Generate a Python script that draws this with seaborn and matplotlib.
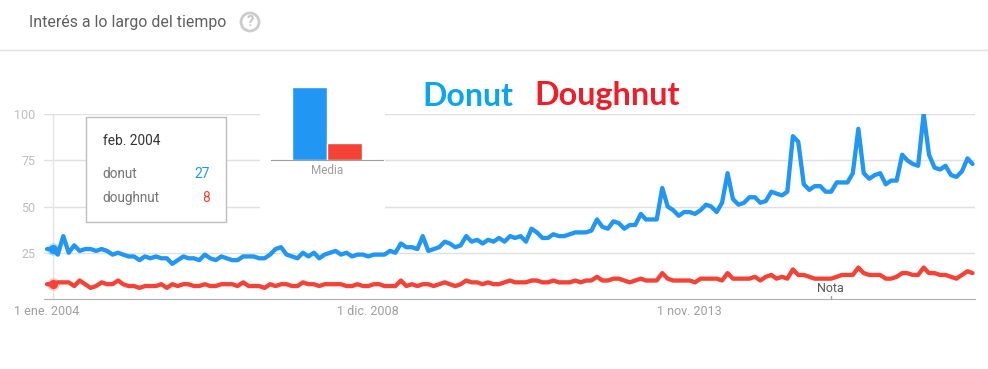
import matplotlib
matplotlib.use("Agg")
import matplotlib.pyplot as plt
from matplotlib.patches import Circle, Rectangle
import pandas as pd
import seaborn as sns

START_MONTH = "2004-01-01"

donut = [
    27, 27, 24, 34, 25, 29, 26, 27, 27, 26, 27, 26, 24, 25, 24, 23, 23, 21, 23, 22,
    23, 22, 22, 19, 21, 23, 22, 22, 21, 24, 22, 21, 23, 22, 21, 21, 23, 23, 23, 22,
    22, 24, 27, 28, 24, 23, 22, 25, 23, 25, 22, 24, 25, 26, 24, 25, 23, 24, 24, 23,
    24, 24, 24, 26, 25, 30, 28, 28, 27, 34, 26, 27, 28, 31, 30, 28, 29, 34, 31, 32,
    30, 32, 31, 33, 31, 34, 33, 34, 31, 38, 36, 33, 33, 35, 34, 34, 35, 36, 36, 36,
    37, 43, 39, 38, 42, 41, 38, 40, 40, 46, 43, 43, 43, 60, 50, 48, 45, 47, 47, 46,
    48, 51, 50, 47, 52, 68, 54, 51, 52, 55, 55, 52, 53, 58, 57, 56, 58, 88, 85, 62,
    59, 61, 61, 58, 58, 63, 63, 63, 68, 92, 68, 65, 67, 68, 62, 64, 64, 78, 75, 73,
    72, 100, 78, 71, 70, 72, 67, 66, 69, 76, 73,
]
doughnut = [
    8, 8, 9, 9, 9, 7, 10, 8, 6, 7, 9, 8, 8, 10, 8, 7, 7, 6, 7, 7,
    7, 8, 6, 8, 7, 8, 8, 7, 7, 8, 7, 7, 8, 8, 8, 7, 9, 7, 7, 7,
    6, 8, 7, 8, 8, 7, 7, 9, 8, 8, 7, 8, 8, 8, 8, 7, 7, 8, 7, 7,
    8, 8, 7, 7, 7, 10, 7, 8, 7, 8, 8, 7, 8, 9, 8, 7, 8, 10, 9, 9,
    8, 9, 8, 8, 9, 10, 9, 9, 9, 10, 10, 9, 9, 10, 9, 9, 9, 10, 9, 10,
    10, 12, 10, 10, 11, 11, 10, 9, 10, 11, 10, 10, 10, 14, 11, 10, 10, 10, 10, 9,
    11, 11, 11, 11, 10, 14, 11, 11, 11, 11, 12, 10, 12, 13, 11, 12, 11, 16, 13, 13,
    12, 11, 11, 11, 11, 12, 13, 13, 13, 17, 14, 13, 13, 13, 11, 11, 12, 14, 14, 13,
    13, 17, 14, 14, 13, 13, 12, 11, 13, 15, 14,
]
average_terms = ["donut", "doughnut"]
average_values = [43, 10]
y_ticks = [25, 50, 75, 100]
x_tick_dates = ["2004-01-01", "2008-12-01", "2013-11-01"]
x_tick_labels = ["1 ene. 2004", "1 dic. 2008", "1 nov. 2013"]

BLUE = "#2196F3"
RED = "#F44336"
GRID = "#E0E0E0"
W, H = 988, 369

sns.set_style("white")
plt.rcParams["font.family"] = ["Roboto", "DejaVu Sans"]

dates = pd.date_range(START_MONTH, periods=len(donut), freq="MS")
df = pd.DataFrame(
    {
        "date": list(dates) * 2,
        "term": ["donut"] * len(donut) + ["doughnut"] * len(doughnut),
        "value": donut + doughnut,
    }
)

fig = plt.figure(figsize=(W / 100, H / 100), dpi=100, facecolor="white")


def box(left, top, right, bottom):
    return [left / W, 1 - bottom / H, (right - left) / W, (bottom - top) / H]


# main chart
ax = fig.add_axes(box(44, 114, 975, 299))
sns.lineplot(
    data=df,
    x="date",
    y="value",
    hue="term",
    palette={"donut": BLUE, "doughnut": RED},
    linewidth=3.1,
    legend=False,
    ax=ax,
)
ax.set_xlim(pd.Timestamp("2003-12-15"), pd.Timestamp("2018-03-15"))
ax.set_ylim(0, 100)
ax.set_xlabel("")
ax.set_ylabel("")
ax.set_yticks(y_ticks)
ax.set_xticks(pd.to_datetime(x_tick_dates))
ax.set_xticklabels(x_tick_labels)
ax.tick_params(axis="y", length=0, pad=6, labelsize=9, labelcolor="#BDBDBD")
ax.tick_params(axis="x", length=0, pad=4, labelsize=9, labelcolor="#9E9E9E")
ax.grid(axis="y", color=GRID, linewidth=1)
ax.set_axisbelow(True)
sns.despine(ax=ax, left=True)
ax.spines["bottom"].set_color("#B0B0B0")

# hover line and dots for feb. 2004
hover = dates[1]
ax.axvline(hover, color="#E4E4E4", linewidth=1, zorder=1)
for series, color in [(donut, BLUE), (doughnut, RED)]:
    ax.plot(hover, series[1], "o", color=color, markersize=9, alpha=0.3, mew=0, zorder=4)
    ax.plot(hover, series[1], "o", color=color, markersize=6.5, mew=0, zorder=5)

# overlay in pixel coordinates
ov = fig.add_axes([0, 0, 1, 1], zorder=5)
ov.set_xlim(0, W)
ov.set_ylim(H, 0)
ov.axis("off")

ov.text(29, 22, "Interés a lo largo del tiempo", fontsize=11.4, color="#5F5F5F", va="center")
ov.add_patch(Circle((250, 22), 9, fill=False, edgecolor="#CCCCCC", linewidth=2))
ov.text(250, 22.5, "?", fontsize=10.5, fontweight="bold", color="#C4C4C4", ha="center", va="center")
ov.plot([0, W], [49.5, 49.5], color=GRID, linewidth=1)

ov.text(422, 96, "Donut", fontsize=23, fontweight="bold", family="Lato", color="#0AA5EE", va="center")
ov.text(534, 96, "Doughnut", fontsize=23.3, fontweight="bold", family="Lato", color="#F01C28", va="center")

# tooltip
ov.add_patch(Rectangle((85.5, 116.5), 140.5, 105.5, facecolor="white", edgecolor="#BDBDBD", linewidth=1))
ov.text(103, 141, "feb. 2004", fontsize=9.9, color="#333333", va="center")
ov.text(102, 174, "donut", fontsize=9.8, color="#757575", va="center")
ov.text(102, 198, "doughnut", fontsize=9.8, color="#757575", va="center")
ov.text(210, 174, str(donut[1]), fontsize=10, color=BLUE, ha="right", va="center")
ov.text(210, 198, str(doughnut[1]), fontsize=10, color=RED, ha="right", va="center")

# white panel behind the average bars
ov.add_patch(Rectangle((260, 70), 125, 160, facecolor="white", edgecolor="none"))

ov.plot([830.5, 830.5], [295.5, 299], color="#9E9E9E", linewidth=1)
ov.text(830, 289, "Nota", fontsize=9, color="#555555", ha="center", va="center")

# average bars
bar_ax = fig.add_axes(box(271, 87, 383, 160), zorder=6, facecolor="none")
sns.barplot(
    x=["Media", "Media"],
    y=average_values,
    hue=average_terms,
    palette=[BLUE, RED],
    width=0.62,
    gap=0,
    saturation=1,
    legend=False,
    ax=bar_ax,
)
bar_ax.set_xlim(-0.5, 0.5)
bar_ax.set_ylim(0, max(average_values))
bar_ax.set_yticks([])
bar_ax.set_xlabel("")
bar_ax.set_ylabel("")
bar_ax.tick_params(axis="x", length=0, pad=3, labelsize=8.5, labelcolor="#9E9E9E")
sns.despine(ax=bar_ax, left=True)
bar_ax.spines["bottom"].set_color("#9E9E9E")

fig.savefig("out.png", dpi=100)
plt.close(fig)
